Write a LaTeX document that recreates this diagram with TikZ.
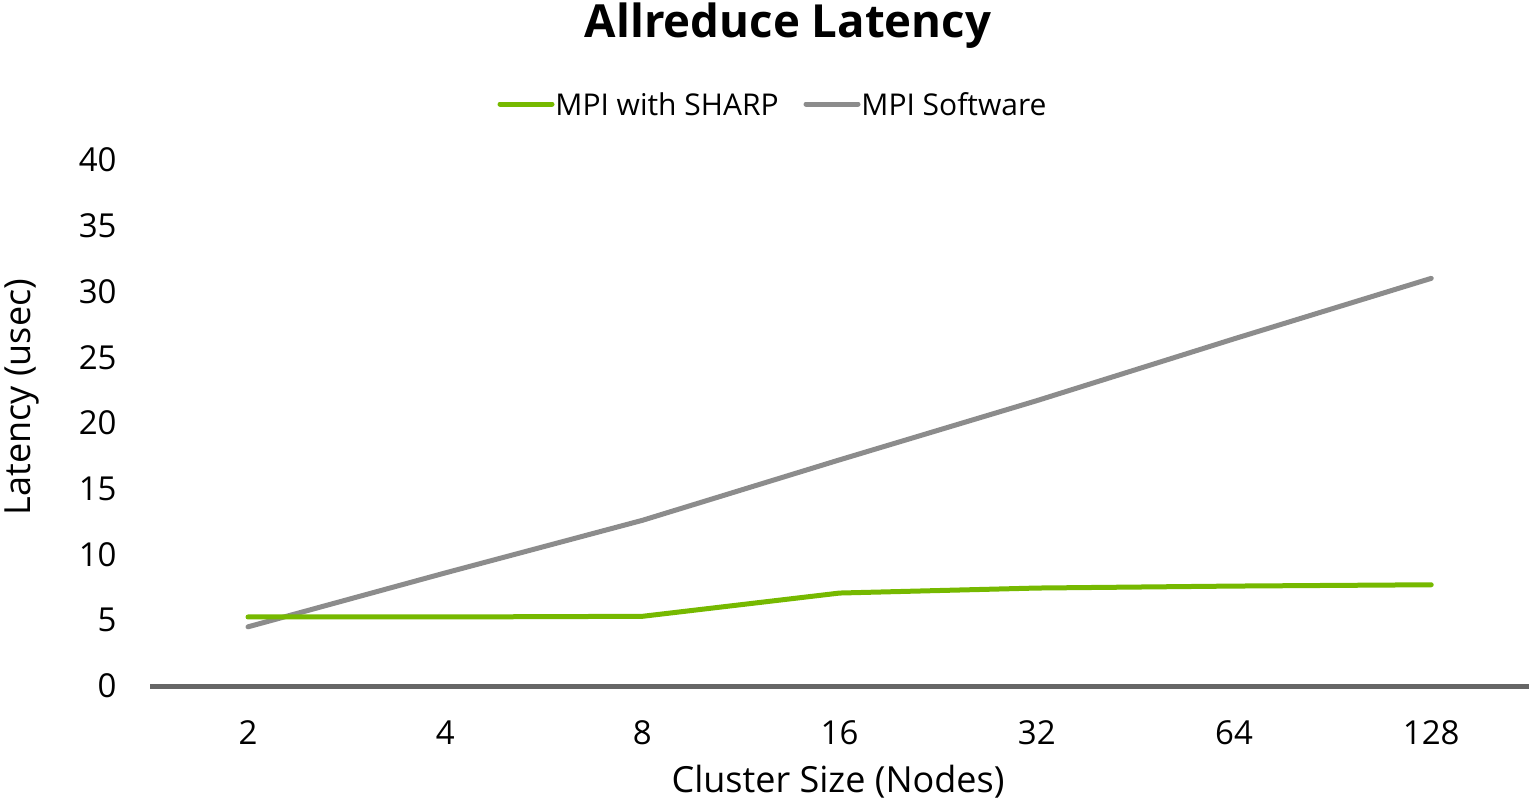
\documentclass[tikz,border=0pt]{standalone}
\usepackage{fontspec}
\setmainfont{Open Sans}
\usetikzlibrary{positioning}
\definecolor{sharpgreen}{HTML}{76B900}
\definecolor{softgray}{HTML}{8C8C8C}
\definecolor{axisgray}{HTML}{666666}

\begin{document}
\begin{tikzpicture}[
  x=0.5pt, y=-0.5pt,
  tick-label/.style={font=\fontsize{16.5}{20}\selectfont, inner sep=0pt},
  axis-title/.style={font=\fontsize{18}{21}\selectfont, inner sep=0pt},
  legend-label/.style={font=\fontsize{15}{18}\selectfont, inner sep=0pt, anchor=west},
  series/.style={line width=2.5pt, line cap=round, line join=round},
  ]
  \useasboundingbox (0,0) rectangle (1529,804);

  \node[font=\fontsize{22.8}{27}\selectfont\bfseries] (title) at (788,26) {Allreduce Latency};

  % legend
  \coordinate (sharp-a) at (500,104);
  \coordinate (sharp-b) at (552,104);
  \node[legend-label] (sharp-key) at (555,104) {MPI with SHARP};
  \coordinate (soft-a) at (806,104);
  \coordinate (soft-b) at (858,104);
  \node[legend-label] (soft-key) at (861,104) {MPI Software};
  \draw[series, sharpgreen] (sharp-a) -- (sharp-b);
  \draw[series, softgray] (soft-a) -- (soft-b);

  % y axis
  \foreach \v in {0,5,...,40} {
    \node[tick-label, anchor=east] (ytick-\v) at (117,686-13.15*\v) {\v};
  }
  \node[axis-title, rotate=90] (ytitle) at (22,397) {Latency (usec)};

  % x axis
  \coordinate (axis-left) at (150,686);
  \coordinate (axis-right) at (1529,686);
  \foreach \n [count=\i from 0] in {2,4,8,16,32,64,128} {
    \node[tick-label] (xtick-\n) at (248+197.2*\i,733) {\n};
  }
  \node[axis-title] (xtitle) at (838,782) {Cluster Size (Nodes)};

  % data
  \foreach \v [count=\i from 0] in {5.25,5.25,5.3,7.07,7.45,7.6,7.7} {
    \coordinate (sharp-\i) at (248+197.2*\i,686-13.15*\v);
  }
  \foreach \v [count=\i from 0] in {4.5,8.6,12.6,17.2,21.7,26.4,31.0} {
    \coordinate (soft-\i) at (248+197.2*\i,686-13.15*\v);
  }
  \draw[series, softgray] (soft-0) -- (soft-1) -- (soft-2) -- (soft-3) -- (soft-4) -- (soft-5) -- (soft-6);
  \draw[series, sharpgreen] (sharp-0) -- (sharp-1) -- (sharp-2) -- (sharp-3) -- (sharp-4) -- (sharp-5) -- (sharp-6);

  \draw[line width=2.5pt, axisgray] (axis-left) -- (axis-right);
\end{tikzpicture}
\end{document}
